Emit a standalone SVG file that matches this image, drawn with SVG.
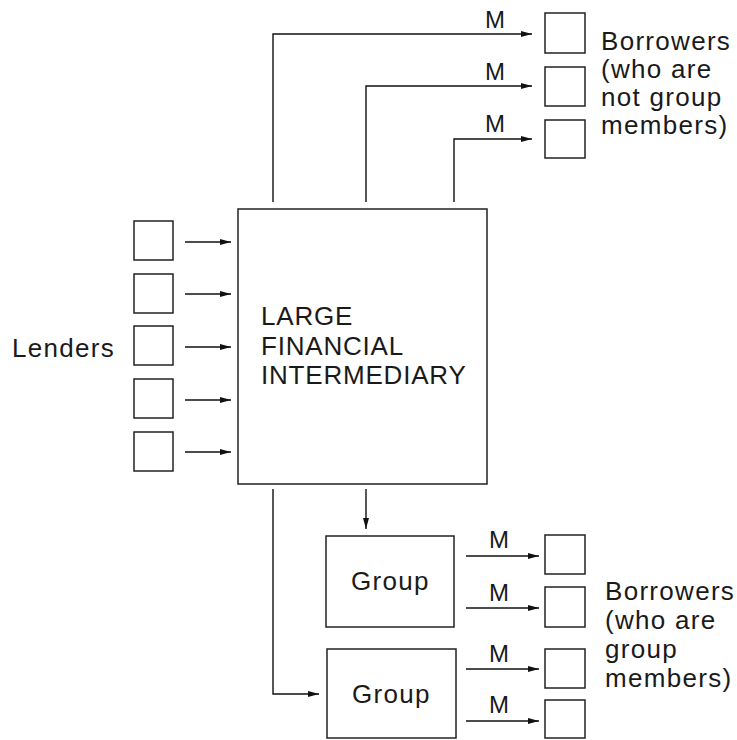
<svg xmlns="http://www.w3.org/2000/svg" width="737" height="740" viewBox="0 0 737 740">
<style>
.box{fill:#fff;stroke:#222;stroke-width:1.5}
.ln{fill:none;stroke:#111;stroke-width:1.4}
.t{font-family:"Liberation Sans",Arial,sans-serif;font-size:26px;fill:#1a1a1a;letter-spacing:1.3px}
.m{font-family:"Liberation Sans",Arial,sans-serif;font-size:24px;fill:#1a1a1a;text-anchor:middle}
</style>
<defs>
<marker id="ah" markerWidth="12" markerHeight="8" refX="11" refY="4" orient="auto" markerUnits="userSpaceOnUse">
<path d="M0,1 L11,4 L0,7 Z" fill="#111"/>
</marker>
</defs>
<rect width="737" height="740" fill="#fff"/>
<g id="connectors">
<path class="ln" d="M273,202 V34 H532" marker-end="url(#ah)"/>
<path class="ln" d="M366,202 V86 H532" marker-end="url(#ah)"/>
<path class="ln" d="M454,202 V139 H532" marker-end="url(#ah)"/>
<path class="ln" d="M185,242 H231" marker-end="url(#ah)"/>
<path class="ln" d="M185,294 H231" marker-end="url(#ah)"/>
<path class="ln" d="M185,347 H231" marker-end="url(#ah)"/>
<path class="ln" d="M185,400 H231" marker-end="url(#ah)"/>
<path class="ln" d="M185,452 H231" marker-end="url(#ah)"/>
<path class="ln" d="M366,489 V529" marker-end="url(#ah)"/>
<path class="ln" d="M273,489 V694 H319" marker-end="url(#ah)"/>
<path class="ln" d="M466,556 H539" marker-end="url(#ah)"/>
<path class="ln" d="M466,608 H539" marker-end="url(#ah)"/>
<path class="ln" d="M466,669 H539" marker-end="url(#ah)"/>
<path class="ln" d="M466,721 H539" marker-end="url(#ah)"/>
<text class="m" x="495" y="28">M</text>
<text class="m" x="495" y="80">M</text>
<text class="m" x="495" y="132">M</text>
<text class="m" x="499" y="548">M</text>
<text class="m" x="499" y="601">M</text>
<text class="m" x="499" y="662">M</text>
<text class="m" x="499" y="713">M</text>
</g>
<g id="intermediary">
<rect class="box" x="238" y="209" width="249" height="275"/>
<text class="t" x="261" y="325" style="letter-spacing:0.8px">LARGE</text>
<text class="t" x="261" y="355" style="letter-spacing:0.8px">FINANCIAL</text>
<text class="t" x="261" y="384" style="letter-spacing:0.8px">INTERMEDIARY</text>
</g>
<g id="lenders">
<rect class="box" x="134" y="221" width="39" height="39"/>
<rect class="box" x="134" y="274" width="39" height="39"/>
<rect class="box" x="134" y="326" width="39" height="39"/>
<rect class="box" x="134" y="379" width="39" height="39"/>
<rect class="box" x="134" y="432" width="39" height="39"/>
<text class="t" x="12" y="357">Lenders</text>
</g>
<g id="borrowers-nongroup">
<rect class="box" x="545" y="13" width="40" height="40"/>
<rect class="box" x="545" y="67" width="40" height="39"/>
<rect class="box" x="545" y="120" width="40" height="38"/>
<text class="t" x="601" y="50">Borrowers</text>
<text class="t" x="601" y="78">(who are</text>
<text class="t" x="601" y="106">not group</text>
<text class="t" x="601" y="134">members)</text>
</g>
<g id="group1">
<rect class="box" x="326" y="536" width="128" height="91"/>
<text class="t" x="351" y="590">Group</text>
</g>
<g id="group2">
<rect class="box" x="327" y="649" width="129" height="89"/>
<text class="t" x="352" y="703">Group</text>
</g>
<g id="borrowers-group">
<rect class="box" x="545" y="535" width="40" height="39"/>
<rect class="box" x="545" y="587" width="40" height="40"/>
<rect class="box" x="545" y="649" width="40" height="39"/>
<rect class="box" x="545" y="700" width="40" height="38"/>
<text class="t" x="605" y="600">Borrowers</text>
<text class="t" x="605" y="629">(who are</text>
<text class="t" x="605" y="658">group</text>
<text class="t" x="605" y="687">members)</text>
</g>
</svg>
